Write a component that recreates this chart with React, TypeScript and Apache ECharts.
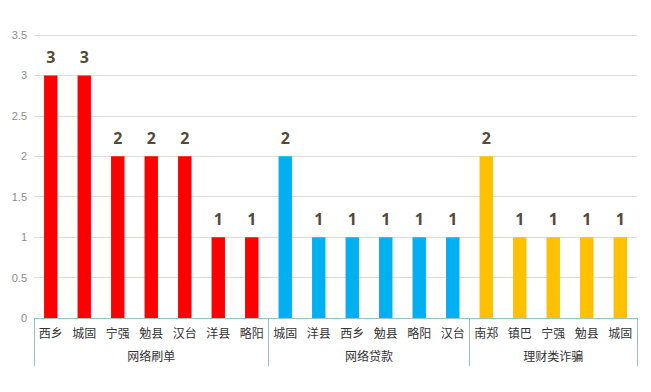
import React, { useEffect, useRef } from "react";
import * as echarts from "echarts";

const cities = [
  "西乡", "城固", "宁强", "勉县", "汉台", "洋县", "略阳",
  "城固", "洋县", "西乡", "勉县", "略阳", "汉台",
  "南郑", "镇巴", "宁强", "勉县", "城固",
];
const values = [3, 3, 2, 2, 2, 1, 1, 2, 1, 1, 1, 1, 1, 2, 1, 1, 1, 1];
const groups = ["网络刷单", "网络贷款", "理财类诈骗"];
const groupSizes = [7, 6, 5];
const groupColors = ["#ff0000", "#00b0f0", "#ffc000"];
const yTicks = [0, 0.5, 1, 1.5, 2, 2.5, 3, 3.5];

export default function App() {
  const ref = useRef<HTMLDivElement>(null);
  useEffect(() => {
    if (!ref.current) return;
    const chart = echarts.init(ref.current, null, { renderer: "svg" });
    const starts: number[] = [];
    const centers: Record<string, string> = {};
    let acc = 0;
    groupSizes.forEach((n, i) => {
      starts.push(acc);
      centers[String(acc + n / 2)] = groups[i];
      acc += n;
    });
    const colorOf = (idx: number) => {
      let a = 0;
      for (let g = 0; g < groupSizes.length; g++) {
        a += groupSizes[g];
        if (idx < a) return groupColors[g];
      }
      return groupColors[groupColors.length - 1];
    };
    chart.setOption({
      animation: false,
      grid: { left: 34, right: 14, top: 35, bottom: 74, containLabel: false },
      xAxis: [
        {
          type: "category",
          data: cities,
          axisLine: { show: true, lineStyle: { color: "#96c2c2", width: 1 } },
          axisTick: {
            show: true,
            interval: (index: number) => starts.includes(index),
            length: 48,
            lineStyle: { color: "#96c2c2" },
          },
          axisLabel: {
            interval: 0,
            margin: 8,
            color: "#333333",
            fontSize: 12,
            fontFamily: "Noto Sans CJK SC",
          },
          splitLine: { show: false },
        },
        {
          type: "value",
          position: "bottom",
          min: 0,
          max: acc,
          interval: 0.5,
          axisLine: { show: false },
          axisTick: { show: false },
          splitLine: { show: false },
          axisLabel: {
            margin: 31,
            color: "#333333",
            fontSize: 12,
            fontFamily: "Noto Sans CJK SC",
            formatter: (v: number) => centers[String(v)] || "",
          },
        },
      ],
      yAxis: {
        type: "value",
        min: 0,
        max: yTicks[yTicks.length - 1],
        interval: 0.5,
        axisLine: { show: false },
        axisTick: { show: false },
        axisLabel: {
          margin: 7,
          color: "#8c8c8c",
          fontSize: 11,
          fontFamily: "Liberation Sans",
        },
        splitLine: { lineStyle: { color: "#e0ddd3", width: 1 } },
      },
      series: [
        {
          type: "bar",
          xAxisIndex: 0,
          barWidth: "40%",
          data: values.map((v, i) => ({ value: v, itemStyle: { color: colorOf(i) } })),
          label: {
            show: true,
            position: "top",
            distance: 10,
            color: "#554a3a",
            fontWeight: "bold",
            fontSize: 16,
            fontFamily: "Noto Sans",
          },
        },
      ],
    });
    return () => chart.dispose();
  }, []);
  return (
    <div
      ref={ref}
      style={{ position: "fixed", left: 0, top: 0, width: 651, height: 392, background: "#fff" }}
    />
  );
}
